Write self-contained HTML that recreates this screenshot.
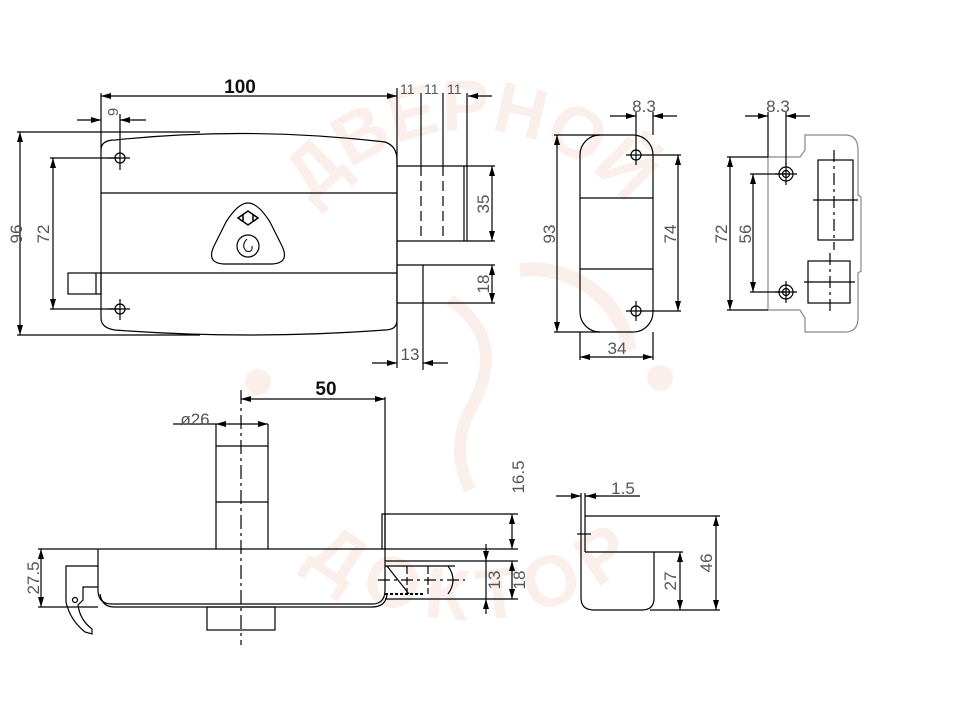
<!DOCTYPE html>
<html><head><meta charset="utf-8"><style>
html,body{margin:0;padding:0;background:#fff;}
svg{display:block}
text{font-family:"Liberation Sans",sans-serif;fill:#555;font-size:17px}
.b{fill:#111;font-weight:bold;font-size:19px}
.wm{fill:#faefea;font-weight:bold;font-size:72px}
</style></head><body>
<svg width="963" height="722" viewBox="0 0 963 722" xmlns="http://www.w3.org/2000/svg">
<defs>
<marker id="a" viewBox="0 0 10 6" refX="10" refY="3" markerWidth="10" markerHeight="6" orient="auto-start-reverse" markerUnits="userSpaceOnUse"><path d="M0,0 L10,3 L0,6z" fill="#000"/></marker>
<path id="up" d="M270,330 A200,200 0 0 1 670,330"/>
<path id="dn" d="M260,360 A200,200 0 0 0 680,360"/>
</defs>
<!-- watermark -->
<g>
<text class="wm"><textPath href="#up" startOffset="50%" text-anchor="middle">ДВЕРНОЙ</textPath></text>
<text class="wm" dy="50"><textPath href="#dn" startOffset="50%" text-anchor="middle">ДОКТОР</textPath></text>
<circle cx="258" cy="382" r="13" fill="#faefea"/>
<circle cx="660" cy="378" r="13" fill="#faefea"/>
<path d="M450,300 q60,40 20,110 q-20,40 0,80" fill="none" stroke="#faefea" stroke-width="12"/>
<path d="M520,270 a100,100 0 0 1 110,80" fill="none" stroke="#faefea" stroke-width="14"/>
</g>
<g fill="none" stroke="#000" stroke-width="1.2">
<!-- TOP LEFT VIEW -->
<line x1="101" y1="96" x2="397" y2="96" marker-start="url(#a)" marker-end="url(#a)"/>
<line x1="101" y1="93" x2="101" y2="150"/>
<path d="M101,150 Q101,140 115,140 Q248,126 385,142 Q397,146 397,160 L397,320 Q397,330 385,330 Q248,340 115,330 Q101,328 101,318 Z"/>
<line x1="101" y1="193" x2="397" y2="193"/>
<line x1="101" y1="273" x2="397" y2="273"/>
<circle cx="120" cy="158" r="5"/><circle cx="120" cy="309" r="5"/>
<line x1="120" y1="114" x2="120" y2="170"/><line x1="108" y1="158" x2="130" y2="158"/>
<line x1="108" y1="309" x2="130" y2="309"/><line x1="120" y1="299" x2="120" y2="320"/>
<line x1="77" y1="120" x2="101" y2="120" marker-end="url(#a)"/>
<line x1="146" y1="120" x2="120" y2="120" marker-end="url(#a)"/>
<line x1="17" y1="132" x2="200" y2="132"/><line x1="17" y1="335" x2="200" y2="335"/>
<line x1="20" y1="132" x2="20" y2="335" marker-start="url(#a)" marker-end="url(#a)"/>
<line x1="50" y1="158" x2="120" y2="158"/><line x1="50" y1="309" x2="120" y2="309"/>
<line x1="53" y1="158" x2="53" y2="309" marker-start="url(#a)" marker-end="url(#a)"/>
<rect x="68" y="273" width="33" height="21"/><line x1="96" y1="273" x2="96" y2="294"/>
<path d="M248,203 Q258,203 270,222 L282,246 Q290,263 272,264 L224,264 Q206,263 214,246 L226,222 Q238,203 248,203Z"/>
<circle cx="248" cy="246" r="11"/>
<path d="M238,218 L248,211 L258,218 L248,225Z" stroke-width="1.5"/>
<line x1="243" y1="214" x2="243" y2="222" stroke-width="1.5"/><line x1="253" y1="214" x2="253" y2="222" stroke-width="1.5"/>
<path d="M247,239 q-6,6 -1,12 q7,2 6,-5" stroke-width="1"/>
<line x1="397" y1="88" x2="397" y2="368"/>
<line x1="421" y1="93" x2="421" y2="166"/><line x1="443" y1="93" x2="443" y2="166"/><line x1="467" y1="93" x2="467" y2="166"/>
<line x1="492" y1="96" x2="468" y2="96" marker-end="url(#a)"/>
<line x1="397" y1="166" x2="495" y2="166"/><line x1="397" y1="241" x2="495" y2="241"/>
<line x1="421" y1="166" x2="421" y2="241" stroke-dasharray="10,5"/>
<line x1="443" y1="166" x2="443" y2="241" stroke-dasharray="10,5"/>
<line x1="464" y1="166" x2="464" y2="241"/><line x1="467" y1="166" x2="467" y2="241"/>
<line x1="492" y1="166" x2="492" y2="241" marker-start="url(#a)" marker-end="url(#a)"/>
<line x1="397" y1="265" x2="495" y2="265"/><line x1="397" y1="303" x2="495" y2="303"/>
<line x1="423" y1="265" x2="423" y2="370"/>
<line x1="492" y1="265" x2="492" y2="303" marker-start="url(#a)" marker-end="url(#a)"/>
<line x1="372" y1="363" x2="397" y2="363" marker-end="url(#a)"/>
<line x1="448" y1="363" x2="423" y2="363" marker-end="url(#a)"/>

<!-- BOTTOM LEFT VIEW -->
<line x1="241" y1="399" x2="385" y2="399" marker-start="url(#a)" marker-end="url(#a)"/>
<line x1="385" y1="397" x2="385" y2="549"/>
<line x1="173" y1="424" x2="216" y2="424"/>
<line x1="216" y1="424" x2="268" y2="424" marker-start="url(#a)" marker-end="url(#a)"/>
<line x1="216" y1="424" x2="216" y2="549"/><line x1="268" y1="424" x2="268" y2="549"/>
<line x1="216" y1="446" x2="268" y2="446"/><line x1="216" y1="502" x2="268" y2="502"/>
<line x1="241" y1="390" x2="241" y2="645" stroke-dasharray="14,4,3,4"/>
<line x1="38" y1="549" x2="518" y2="549"/>
<path d="M98,549 L98,590 Q98,604 112,604 L372,604 Q385,604 385,590 L385,549"/>
<path d="M100,594 Q102,607 114,607 L372,607 Q386,607 387,594"/>
<rect x="207" y="607" width="68" height="23"/>
<line x1="38" y1="607" x2="98" y2="607"/>
<line x1="41" y1="549" x2="41" y2="607" marker-start="url(#a)" marker-end="url(#a)"/>
<path d="M98,566 L66,566 L66,602 Q70,620 85,632 L92,634 L92,629 Q80,620 78,605 L83,600 L83,587 L98,587"/>
<circle cx="75" cy="600" r="2.5"/>
<path d="M382,549 L382,514 L385,514 L385,549"/>
<line x1="385" y1="514" x2="518" y2="514"/>
<line x1="512" y1="514" x2="512" y2="549" marker-start="url(#a)" marker-end="url(#a)"/>
<line x1="385" y1="561" x2="518" y2="561"/><line x1="385" y1="599" x2="518" y2="599"/>
<line x1="385" y1="566" x2="455" y2="566"/>
<path d="M448,566 Q458,580 448,594"/>
<line x1="378" y1="580" x2="465" y2="580" stroke-dasharray="12,4,3,4"/>
<line x1="407" y1="566" x2="407" y2="594" stroke-dasharray="8,3"/>
<line x1="428" y1="566" x2="428" y2="594" stroke-dasharray="8,3"/>
<line x1="387" y1="566" x2="409" y2="594"/>
<line x1="385" y1="594" x2="425" y2="594" stroke-dasharray="3,2" stroke-width="2"/>
<line x1="486" y1="544" x2="486" y2="561" marker-end="url(#a)"/>
<line x1="486" y1="614" x2="486" y2="599" marker-end="url(#a)"/>
<line x1="486" y1="561" x2="486" y2="599"/>
<line x1="512" y1="561" x2="512" y2="599" marker-start="url(#a)" marker-end="url(#a)"/>

<!-- MIDDLE VIEW -->
<rect x="580" y="135" width="73" height="197" rx="20" ry="20"/>
<line x1="580" y1="198" x2="653" y2="198"/><line x1="580" y1="269" x2="653" y2="269"/>
<circle cx="636" cy="155" r="5"/><circle cx="636" cy="311" r="5"/>
<line x1="636" y1="112" x2="636" y2="165"/><line x1="626" y1="155" x2="681" y2="155"/>
<line x1="636" y1="301" x2="636" y2="321"/><line x1="626" y1="311" x2="681" y2="311"/>
<line x1="653" y1="112" x2="653" y2="135"/>
<line x1="610" y1="116" x2="636" y2="116" marker-end="url(#a)"/>
<line x1="677" y1="116" x2="653" y2="116" marker-end="url(#a)"/>
<line x1="554" y1="135" x2="600" y2="135"/><line x1="554" y1="332" x2="600" y2="332"/>
<line x1="557" y1="135" x2="557" y2="332" marker-start="url(#a)" marker-end="url(#a)"/>
<line x1="678" y1="155" x2="678" y2="311" marker-start="url(#a)" marker-end="url(#a)"/>
<line x1="580" y1="332" x2="580" y2="360"/><line x1="653" y1="332" x2="653" y2="360"/>
<line x1="580" y1="357" x2="653" y2="357" marker-start="url(#a)" marker-end="url(#a)"/>

<!-- RIGHT VIEW -->
<path d="M768,157 L800,157 L805,150 L805,135 L845,135 Q858,135 858,150 L858,195 L861,197 L861,271 L858,273 L858,318 Q858,332 845,332 L805,332 L805,318 L800,310 L768,310 Z" stroke="#888"/>
<line x1="768" y1="112" x2="768" y2="157"/><line x1="786" y1="112" x2="786" y2="165"/>
<line x1="745" y1="116" x2="768" y2="116" marker-end="url(#a)"/>
<line x1="810" y1="116" x2="786" y2="116" marker-end="url(#a)"/>
<circle cx="786" cy="174" r="7"/><circle cx="786" cy="174" r="3.5"/>
<circle cx="786" cy="292" r="7"/><circle cx="786" cy="292" r="3.5"/>
<line x1="786" y1="163" x2="786" y2="185"/><line x1="775" y1="174" x2="797" y2="174"/>
<line x1="786" y1="281" x2="786" y2="303"/><line x1="775" y1="292" x2="797" y2="292"/>
<line x1="727" y1="157" x2="768" y2="157"/><line x1="727" y1="310" x2="768" y2="310"/>
<line x1="730" y1="157" x2="730" y2="310" marker-start="url(#a)" marker-end="url(#a)"/>
<line x1="750" y1="174" x2="786" y2="174"/><line x1="750" y1="292" x2="786" y2="292"/>
<line x1="753" y1="174" x2="753" y2="292" marker-start="url(#a)" marker-end="url(#a)"/>
<rect x="818" y="160" width="35" height="80"/>
<line x1="834" y1="150" x2="834" y2="250" stroke-dasharray="12,4,3,4"/>
<line x1="813" y1="200" x2="858" y2="200"/>
<rect x="808" y="261" width="42" height="42"/>
<line x1="830" y1="253" x2="830" y2="312" stroke-dasharray="12,4,3,4"/>
<line x1="804" y1="282" x2="855" y2="282"/>

<!-- BOTTOM RIGHT PIECE -->
<line x1="556" y1="496" x2="581" y2="496" marker-end="url(#a)"/>
<line x1="640" y1="496" x2="585" y2="496"/>
<line x1="598" y1="496" x2="586" y2="496" marker-end="url(#a)"/>
<line x1="581" y1="493" x2="581" y2="516"/><line x1="585" y1="493" x2="585" y2="552"/>
<path d="M581,516 L581,598 Q581,610 594,610 L642,610 Q654,610 654,598 L654,552 L683,552"/>
<line x1="585" y1="552" x2="654" y2="552"/>
<line x1="577" y1="534" x2="591" y2="534"/>
<line x1="585" y1="516" x2="720" y2="516"/>
<line x1="650" y1="610" x2="720" y2="610"/>
<line x1="716" y1="516" x2="716" y2="610" marker-start="url(#a)" marker-end="url(#a)"/>
<line x1="680" y1="552" x2="680" y2="610" marker-start="url(#a)" marker-end="url(#a)"/>
</g>

<!-- TEXT -->
<text class="b" x="240" y="93" text-anchor="middle">100</text>
<text x="400" y="94" style="font-size:14px">11</text>
<text x="424" y="94" style="font-size:14px">11</text>
<text x="447" y="94" style="font-size:14px">11</text>
<text transform="translate(118,112) rotate(-90)" text-anchor="middle" style="font-size:15px">9</text>
<text transform="translate(22,234) rotate(-90)" text-anchor="middle">96</text>
<text transform="translate(49,234) rotate(-90)" text-anchor="middle">72</text>
<text transform="translate(489,204) rotate(-90)" text-anchor="middle">35</text>
<text transform="translate(489,284) rotate(-90)" text-anchor="middle">18</text>
<text x="410" y="360" text-anchor="middle">13</text>
<text class="b" x="326" y="395" text-anchor="middle">50</text>
<text x="195" y="425" text-anchor="middle">ø26</text>
<text transform="translate(39,578) rotate(-90)" text-anchor="middle">27.5</text>
<text transform="translate(524,477) rotate(-90)" text-anchor="middle">16.5</text>
<text transform="translate(500,580) rotate(-90)" text-anchor="middle">13</text>
<text transform="translate(525,580) rotate(-90)" text-anchor="middle">18</text>
<text x="644" y="112" text-anchor="middle">8.3</text>
<text transform="translate(555,234) rotate(-90)" text-anchor="middle">93</text>
<text transform="translate(676,234) rotate(-90)" text-anchor="middle">74</text>
<text x="617" y="354" text-anchor="middle">34</text>
<text x="778" y="112" text-anchor="middle">8.3</text>
<text transform="translate(727,234) rotate(-90)" text-anchor="middle">72</text>
<text transform="translate(751,234) rotate(-90)" text-anchor="middle">56</text>
<text x="623" y="494" text-anchor="middle">1.5</text>
<text transform="translate(712,563) rotate(-90)" text-anchor="middle">46</text>
<text transform="translate(676,581) rotate(-90)" text-anchor="middle">27</text>
</svg>
</body></html>
